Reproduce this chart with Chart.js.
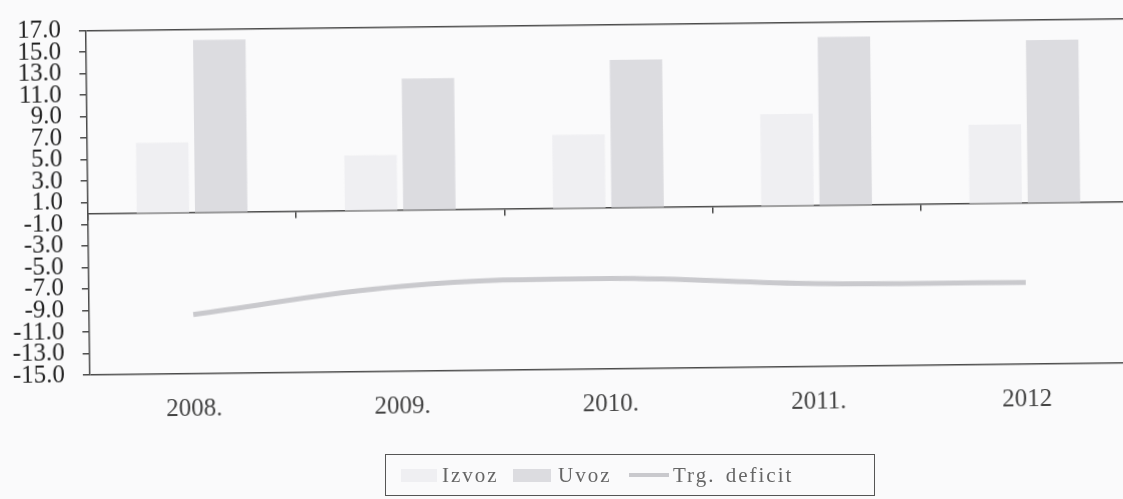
<!DOCTYPE html>
<html>
<head>
<meta charset="utf-8">
<script src="https://cdn.jsdelivr.net/npm/chart.js@4.4.1/dist/chart.umd.min.js"></script>
<style>
  html, body { margin: 0; padding: 0; background: #fafafb; }
  #outer { position: relative; width: 1123px; height: 499px; overflow: hidden; background: #fafafb; }
  #wrap { position: absolute; left: 0; top: 0; width: 1135px; height: 499px;
          transform-origin: 89px 212px; transform: rotate(-0.66deg); }
  #legend { position: absolute; left: 385px; top: 454px; width: 490px; height: 42px;
            border: 1px solid #555; box-sizing: border-box; background: transparent;
            font-family: 'Liberation Serif', 'Times New Roman', serif; font-size: 21px;
            color: #666; letter-spacing: 2px; word-spacing: 3px; }
  #legend .it { position: absolute; top: 9px; line-height: 22px; white-space: nowrap; }
  #legend .sw { position: absolute; }
</style>
</head>
<body>
<div id="outer">
  <div id="wrap"><canvas id="c" width="1135" height="499"></canvas></div>
  <div id="legend">
    <span class="sw" style="left:15px;top:14px;width:36px;height:13px;background:#efeff2;"></span>
    <span class="it" style="left:56px;">Izvoz</span>
    <span class="sw" style="left:127px;top:14px;width:38px;height:13px;background:#dcdce0;"></span>
    <span class="it" style="left:172px;">Uvoz</span>
    <span class="sw" style="left:243px;top:18px;width:40px;height:4px;background:#c9c9cd;"></span>
    <span class="it" style="left:287px;">Trg. deficit</span>
  </div>
</div>
<script>
const categories = ['2008.', '2009.', '2010.', '2011.', '2012'];
const izvoz = [6.5, 5.1, 6.8, 8.5, 7.3];
const uvoz = [16.0, 12.2, 13.7, 15.6, 15.1];
const trgDeficit = [-9.5, -7.1, -6.6, -7.3, -7.4];
const yMin = -15, yMax = 17, yStep = 2;

const axisColor = '#4a4a4a';
const serif = "'Liberation Serif', 'Times New Roman', serif";

new Chart(document.getElementById('c'), {
  type: 'bar',
  data: {
    labels: categories,
    datasets: [
      { type: 'line', label: 'Trg. deficit', data: trgDeficit, borderColor: '#c9c9cd',
        borderWidth: 5, pointRadius: 0, tension: 0.4, fill: false, order: 0 },
      { label: 'Izvoz', data: izvoz, backgroundColor: '#efeff2', borderWidth: 0,
        categoryPercentage: 0.56, barPercentage: 0.9, order: 1 },
      { label: 'Uvoz', data: uvoz, backgroundColor: '#dcdce0', borderWidth: 0,
        categoryPercentage: 0.56, barPercentage: 0.9, order: 1 }
    ]
  },
  options: {
    responsive: false,
    animation: false,
    layout: { padding: { left: 0, right: 6, top: 28, bottom: 54 } },
    plugins: { legend: { display: false }, tooltip: { enabled: false } },
    scales: {
      x: {
        type: 'category', position: 'bottom', offset: true,
        grid: { display: false, drawTicks: false, offset: true },
        border: { display: false },
        ticks: { font: { family: serif, size: 25 }, color: '#444', padding: 20, maxRotation: 0 }
      },
      x0: {
        type: 'category', axis: 'x', position: { y: 0 }, offset: true,
        grid: { offset: true, drawOnChartArea: false, drawTicks: true, tickLength: 6,
                color: axisColor, lineWidth: 1.5 },
        border: { display: true, color: axisColor, width: 1.5 },
        ticks: { display: false }
      },
      y: {
        type: 'linear', position: 'left', min: yMin, max: yMax,
        afterFit: (s) => { s.width = 88; },
        ticks: { stepSize: yStep, autoSkip: false, padding: 18, color: '#222',
                 font: { family: serif, size: 25, lineHeight: 1 },
                 callback: (v) => Number(v).toFixed(1) },
        grid: {
          drawTicks: true, tickLength: 7, tickColor: axisColor, tickWidth: 1.5,
          lineWidth: 1.5,
          color: (ctx) => (ctx.tick && (ctx.tick.value === yMax || ctx.tick.value === yMin)) ? axisColor : 'rgba(0,0,0,0)'
        },
        border: { display: true, color: axisColor, width: 1.5 }
      }
    }
  }
});
</script>
</body>
</html>
